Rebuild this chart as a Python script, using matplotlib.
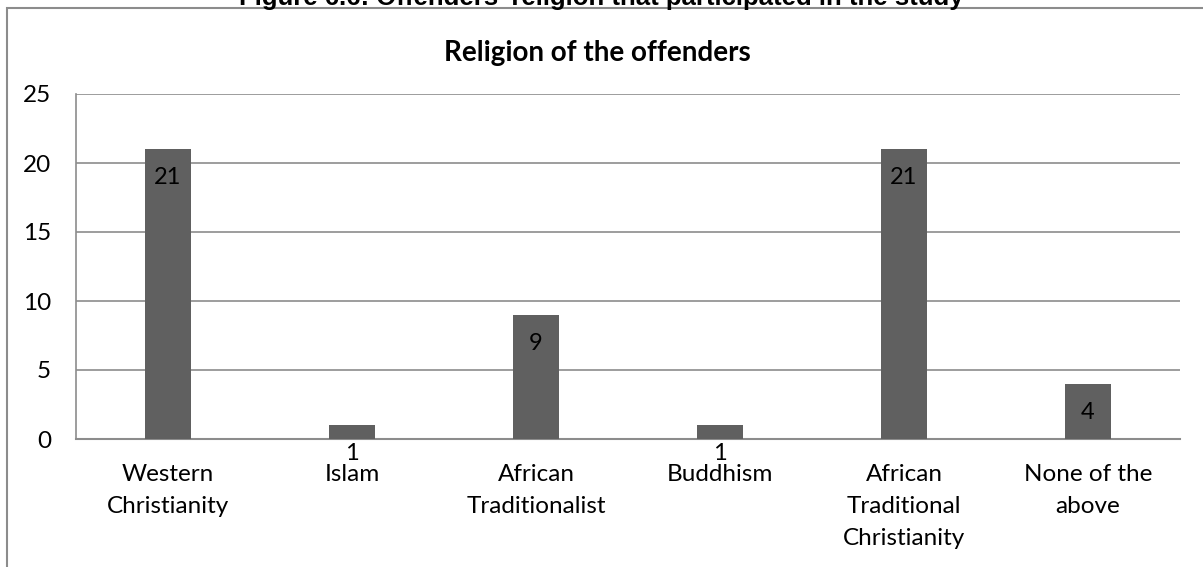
import matplotlib.pyplot as plt
from matplotlib.patches import Rectangle

categories = ['Western\nChristianity', 'Islam', 'African\nTraditionalist', 'Buddhism',
              'African\nTraditional\nChristianity', 'None of the\nabove']
counts = [21, 1, 9, 1, 21, 4]

plt.rcParams['font.family'] = ['Lato', 'DejaVu Sans']

W, H = 1203, 567
fig = plt.figure(figsize=(W / 100, H / 100), dpi=100)

# chart border (runs past the right and bottom edges of the image)
fig.patches.append(Rectangle((7 / W, -0.2), 1.2, 1 - 8 / H + 0.2, transform=fig.transFigure,
                             fill=False, edgecolor='#8c8c8c', linewidth=1.5))

# figure caption, partly cut off at the top
fig.text(0.5, 1 - 5 / H, "Figure 6.6: Offenders' religion that participated in the study",
         ha='center', va='baseline', fontsize=18.5, fontweight='bold', family=['Liberation Sans'])

# chart title, centred on the chart frame
fig.text(597 / W, 1 - 53 / H, 'Religion of the offenders', ha='center', va='center',
         fontsize=20, fontweight='bold')

ax = fig.add_axes([76 / W, 1 - 439 / H, (1180 - 76) / W, (439 - 94) / H])
x = range(len(categories))
bars = ax.bar(x, counts, width=0.25, color='#606060', zorder=3)

for b, v in zip(bars, counts):
    ax.annotate(str(v), (b.get_x() + b.get_width() / 2, v), xytext=(0, -20.5),
                textcoords='offset points', ha='center', va='center', fontsize=17, color='black',
                zorder=4)

ax.set_xlim(-0.5, len(categories) - 0.5)
ax.set_ylim(0, 25)
ax.set_yticks([0, 5, 10, 15, 20, 25])
ax.set_xticks(list(x))
ax.set_xticklabels(categories, fontsize=17.5, linespacing=1.65, va='top')
ax.tick_params(axis='both', length=0, labelsize=17.5)
ax.tick_params(axis='x', pad=18)
ax.tick_params(axis='y', pad=18)
ax.grid(axis='y', color='#8c8c8c', linewidth=1.2, zorder=0)
for s in ['top', 'right']:
    ax.spines[s].set_visible(False)
ax.spines['left'].set_color('#8c8c8c')
ax.spines['bottom'].set_color('#8c8c8c')
ax.spines['left'].set_linewidth(1.2)
ax.spines['bottom'].set_linewidth(1.5)

fig.savefig('out.png', dpi=100)
